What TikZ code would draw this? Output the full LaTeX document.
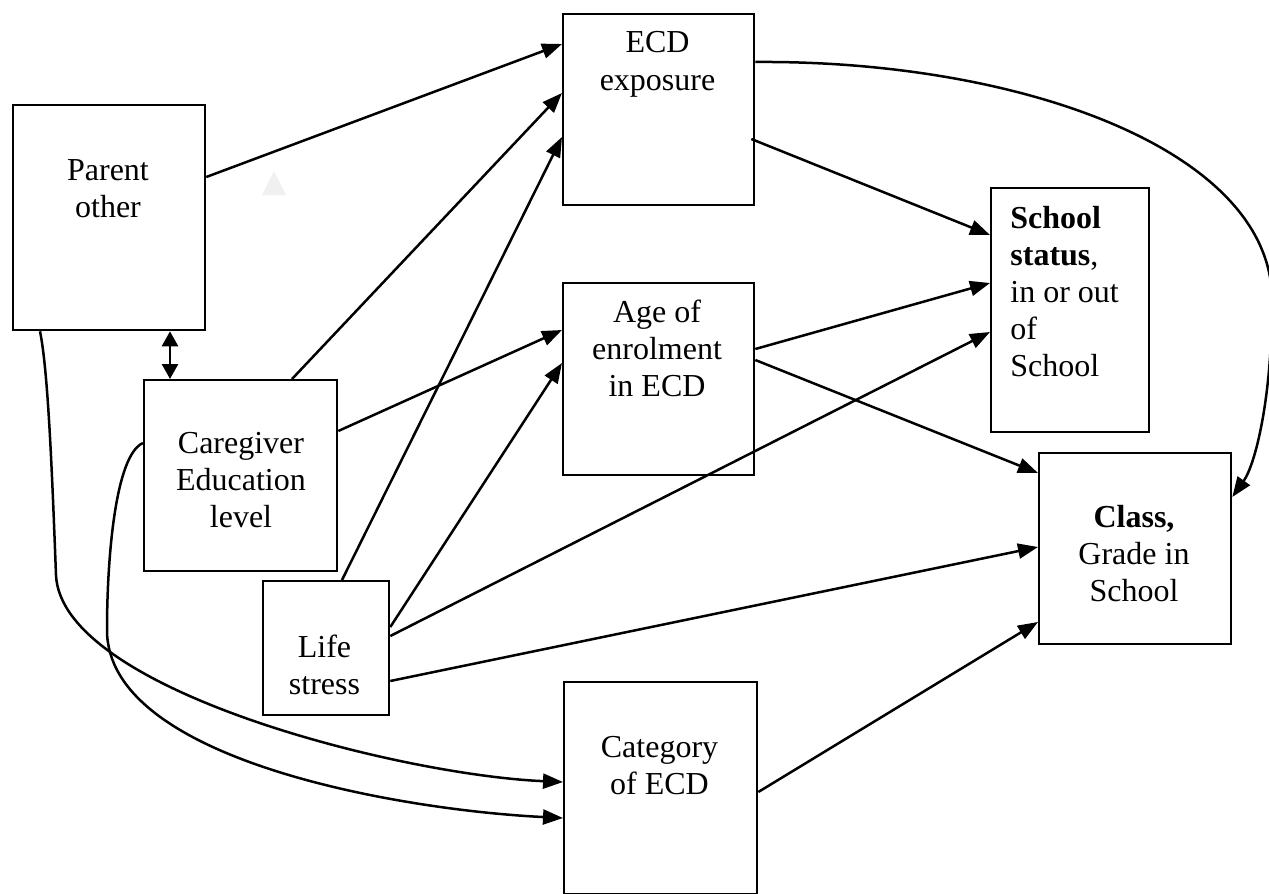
\documentclass[tikz,border=0pt]{standalone}
\usepackage{fontspec}
\setmainfont{Liberation Serif}
\usetikzlibrary{arrows.meta,calc}
\definecolor{trigray}{RGB}{240,240,240}
\begin{document}
\begin{tikzpicture}[x=0.5pt,y=-0.5pt,
  box/.style 2 args={draw, line width=1.15pt, inner sep=0pt, anchor=north west,
    minimum width=#1*0.5pt, minimum height=#2*0.5pt},
  txt/.style={font=\fontsize{16}{18.5}\selectfont, inner sep=0pt, align=center, anchor=base},
  conn/.style={line width=1.25pt, -{Triangle[length=10pt,width=7.5pt]}},
  dbl/.style={line width=1.25pt, {Triangle[length=7.5pt,width=8pt]}-{Triangle[length=7.5pt,width=8pt]}}]
\useasboundingbox (0,0) rectangle (1269,894);

% faint triangle
\fill[trigray] (262,195) -- (286,195) -- (274,171) -- cycle;

% boxes
\node[box={192}{225}] (parent) at (12,104) {};
\node[box={193}{191}] (care) at (143,379) {};
\node[box={191}{191}] (ecd) at (562,13) {};
\node[box={191}{192}] (age) at (562,282) {};
\node[box={158}{244}] (school) at (990,187) {};
\node[box={192}{191}] (class) at (1038,452) {};
\node[box={126}{134}] (life) at (262,580) {};
\node[box={193}{212}] (cat) at (563,681) {};

% texts (anchor base = baseline of last line)
\node[txt] (tparent) at (108,217) {Parent\\other};
\node[txt] (tcare) at (241,527) {Caregiver\\Education\\level};
\node[txt] (tecd) at (657.5,90) {ECD\\exposure};
\node[txt] (tage) at (657,396) {Age of\\enrolment\\in ECD};
\node[txt, align=left, anchor=base west] (tschool) at (1010,376)
  {\textbf{School}\\\textbf{status},\\in or out\\of\\School};
\node[txt] (tclass) at (1134,601) {\textbf{Class,}\\Grade in\\School};
\node[txt] (tlife) at (324.5,694) {Life\\stress};
\node[txt] (tcat) at (659.5,794) {Category\\of ECD};

% connectors
\draw[conn] (parent.east |- 0,177) -- (ecd.west |- 0,44);
\draw[conn] (care.north -| 292,0) -- (ecd.west |- 0,93);
\draw[conn] (life.north -| 342,0) -- (ecd.west |- 0,137);
\draw[conn] (care.east |- 0,431) -- (age.west |- 0,330);
\draw[conn] (life.east |- 0,627) -- (age.west |- 0,363);
\draw[conn] (life.east |- 0,636) -- (school.west |- 0,332);
\draw[conn] (life.east |- 0,681) -- (class.west |- 0,547);
\draw[conn] ([xshift=-2pt]ecd.east |- 0,139) -- (school.west |- 0,235);
\draw[conn] (age.east |- 0,349) -- (school.west |- 0,283);
\draw[conn] (age.east |- 0,360) -- (class.west |- 0,473);
\draw[conn] (cat.east |- 0,792) -- (class.west |- 0,622);
\draw[conn] (ecd.east |- 0,62) .. controls (1020,60) and (1272,150) .. (1272,300)
  .. controls (1272,400) and (1255,465) .. (class.east |- 0,497);
\draw[dbl] (parent.south -| 170,0) -- (care.north -| 170,0);
\draw[conn] (parent.south -| 40,0) .. controls (48,370) and (52,470) .. (56,575)
  .. controls (61,690) and (400,775) .. (cat.west |- 0,782);
\draw[conn] (care.west |- 0,443) .. controls (115,455) and (107,560) .. (107,630)
  .. controls (107,760) and (400,810) .. (cat.west |- 0,818);
\end{tikzpicture}
\end{document}
